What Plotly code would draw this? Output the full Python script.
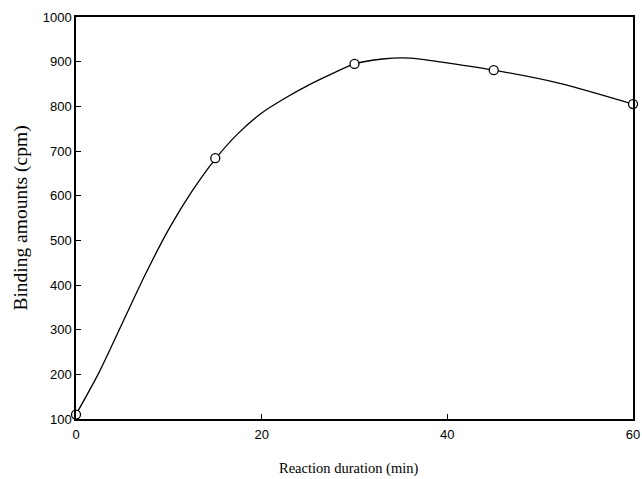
import plotly.graph_objects as go

# measured data points
time_min = [0, 15, 30, 45, 60]
binding_cpm = [110, 684, 895, 881, 805]

# smooth fitted curve
curve_x = [0, 2.5, 5, 7.5, 10, 12.5, 15, 17.5, 20, 22.5, 25, 27.5, 30, 33, 36, 39, 45, 52, 60]
curve_y = [110, 205, 315, 425, 525, 610, 682, 740, 785, 818, 847, 872, 895, 906, 908, 900, 881, 852, 805]

x_ticks = [0, 20, 40, 60]
y_ticks = [100, 200, 300, 400, 500, 600, 700, 800, 900, 1000]

fig = go.Figure()
fig.add_trace(go.Scatter(
    x=curve_x, y=curve_y, mode="lines",
    line=dict(color="black", width=1.3, shape="spline", smoothing=0.8),
    hoverinfo="skip", showlegend=False, cliponaxis=False,
))
fig.add_trace(go.Scatter(
    x=time_min, y=binding_cpm, mode="markers",
    marker=dict(symbol="circle", size=9, color="white", line=dict(color="black", width=1.3)),
    showlegend=False, cliponaxis=False,
))

axis_common = dict(
    showline=True, linecolor="black", linewidth=1.5, mirror=True,
    ticks="inside", ticklen=5, tickwidth=1, tickcolor="black",
    showgrid=False, zeroline=False, automargin=False,
    tickfont=dict(family="Liberation Sans, Arial, sans-serif", size=13, color="black"),
)

fig.update_layout(
    width=642, height=479,
    margin=dict(l=76, r=9, t=17, b=60, autoexpand=False),
    paper_bgcolor="white", plot_bgcolor="white",
    xaxis=dict(range=[0, 60], tickvals=x_ticks, ticklabelstandoff=3, **axis_common),
    yaxis=dict(range=[100, 1000], tickvals=y_ticks, **axis_common,
               title=dict(text="Binding amounts (cpm)", standoff=10,
                          font=dict(family="Liberation Serif, Times New Roman, serif", size=19.5, color="black"))),
    annotations=[dict(
        text="Reaction duration (min)", xref="paper", yref="paper",
        x=0.49, y=0, yshift=-49, xanchor="center", yanchor="middle", showarrow=False,
        font=dict(family="Liberation Serif, Times New Roman, serif", size=14.5, color="black"),
    )],
)

fig.write_html("out.html")
